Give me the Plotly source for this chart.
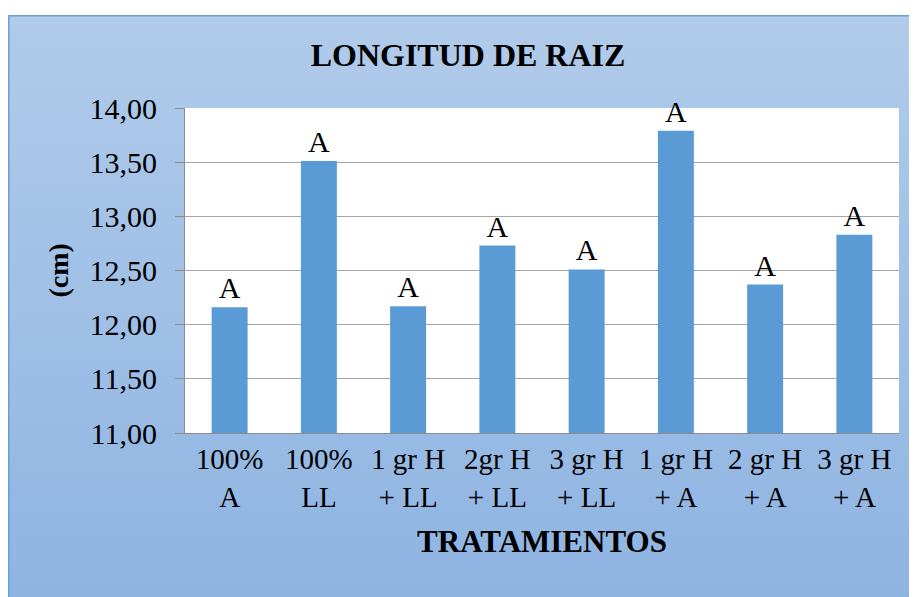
import base64
import plotly.graph_objects as go

categories = ["100%<br>A", "100%<br>LL", "1 gr H<br>+ LL", "2gr H<br>+ LL",
              "3 gr H<br>+ LL", "1 gr H<br>+ A", "2 gr H<br>+ A", "3 gr H<br>+ A"]
values = [12.16, 13.51, 12.17, 12.73, 12.51, 13.79, 12.37, 12.83]
letters = ["A", "A", "A", "A", "A", "A", "A", "A"]
y_ticks = [11.0, 11.5, 12.0, 12.5, 13.0, 13.5, 14.0]

SERIF = "Liberation Serif, Times New Roman, Tinos, DejaVu Serif, serif"

# page is offset by 8px body margin
W, H = 909, 589
ML, MR, MT, MB = 177, 18, 100, 164
PW = W - ML - MR
PH = H - MT - MB

# gradient panel background (SVG)
px0, py0 = 0, 7
pw, ph = W - px0 + 4, H - py0 + 4
svg = f'''<svg xmlns="http://www.w3.org/2000/svg" width="{pw}" height="{ph}" viewBox="0 0 {pw} {ph}" preserveAspectRatio="none">
<defs><linearGradient id="g" x1="0" y1="0" x2="0" y2="1">
<stop offset="0" stop-color="#B1CBEA"/><stop offset="1" stop-color="#8EB4E2"/></linearGradient></defs>
<rect x="0.75" y="0.75" width="{pw}" height="{ph}" fill="url(#g)" stroke="#6A9FD6" stroke-width="1.5"/>
</svg>'''
src = "data:image/svg+xml;base64," + base64.b64encode(svg.encode()).decode()

fig = go.Figure(go.Bar(
    x=categories, y=values, text=letters,
    textposition="outside", constraintext="none", cliponaxis=False,
    textfont=dict(family=SERIF, size=30, color="black"),
    marker=dict(color="#5B9BD5", line=dict(width=0)),
))

fig.update_layout(
    width=W, height=H,
    margin=dict(l=ML, r=MR, t=MT, b=MB),
    paper_bgcolor="white", plot_bgcolor="white",
    separators=",.",
    bargap=0.597,
    showlegend=False,
    font=dict(family=SERIF, color="black"),
    title=dict(text="<b>LONGITUD DE RAIZ</b>", x=460 / W, xref="container", xanchor="center",
               y=1 - 47 / H, yref="container", yanchor="middle",
               font=dict(family=SERIF, size=32, color="black")),
    images=[dict(source=src, xref="paper", yref="paper",
                 x=(px0 - ML) / PW, y=(H - MB - py0) / PH,
                 sizex=pw / PW, sizey=ph / PH, xanchor="left", yanchor="top",
                 sizing="stretch", layer="below")],
    shapes=[dict(type="rect", xref="paper", yref="paper", x0=0, x1=1, y0=0, y1=1,
                 fillcolor="white", line=dict(width=0), layer="below")],
    annotations=[dict(text="<b>(cm)</b>", textangle=-90, showarrow=False,
                      xref="paper", yref="paper", x=(50 - ML) / PW, y=0.5,
                      xanchor="center", yanchor="middle",
                      font=dict(family=SERIF, size=28, color="black"))],
)

fig.update_xaxes(
    showline=True, linecolor="#8C8C8C", linewidth=1.2,
    ticks="", showgrid=False,
    tickfont=dict(family=SERIF, size=29, color="black"),
    title=dict(text="<b>TRATAMIENTOS</b>", standoff=18,
               font=dict(family=SERIF, size=31, color="black")),
)
fig.update_yaxes(
    range=[11, 14], tickvals=y_ticks, tickformat=".2f",
    showline=True, linecolor="#8C8C8C", linewidth=1.2,
    ticks="outside", ticklen=9, tickcolor="#8C8C8C",
    showgrid=True, gridcolor="#A6A6A6", gridwidth=1.2,
    zeroline=False, ticklabelstandoff=12,
    tickfont=dict(family=SERIF, size=30, color="black"),
)

fig.write_html("out.html")
